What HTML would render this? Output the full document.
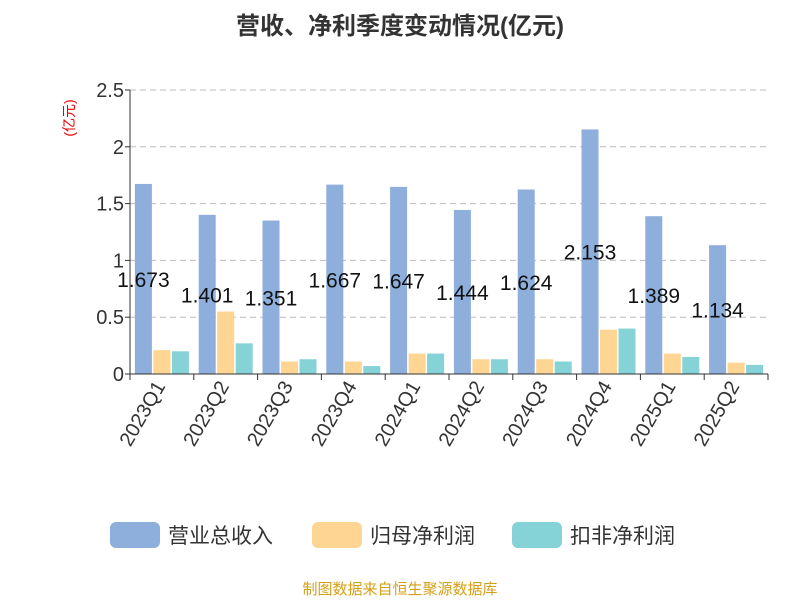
<!DOCTYPE html>
<html><head><meta charset="utf-8"><style>
body{margin:0;background:#fff;font-family:"Liberation Sans","Noto Sans CJK SC",sans-serif;}
</style></head><body>
<svg width="800" height="600" xmlns="http://www.w3.org/2000/svg" font-family="Liberation Sans, Noto Sans CJK SC, sans-serif">
<text x="400" y="34" text-anchor="middle" font-size="24" font-weight="bold" fill="#333">营收、净利季度变动情况(亿元)</text>
<text transform="translate(74,118) rotate(-90)" text-anchor="middle" font-size="14" fill="#e00">(亿元)</text>
<g id="grid"></g><g id="bars"></g><g id="axes"></g>
<g>
<rect x="110" y="522" width="50" height="26" rx="6" fill="#8eaedb"/>
<text x="168" y="543" font-size="21" fill="#333">营业总收入</text>
<rect x="312" y="522" width="50" height="26" rx="6" fill="#ffd594"/>
<text x="370" y="543" font-size="21" fill="#333">归母净利润</text>
<rect x="512" y="522" width="50" height="26" rx="6" fill="#85d3d6"/>
<text x="570" y="543" font-size="21" fill="#333">扣非净利润</text>
</g>
<text x="400" y="594" text-anchor="middle" font-size="15" fill="#d4a017">制图数据来自恒生聚源数据库</text>
</svg>
<script>
const categories=["2023Q1","2023Q2","2023Q3","2023Q4","2024Q1","2024Q2","2024Q3","2024Q4","2025Q1","2025Q2"];
const revenue=[1.673,1.401,1.351,1.667,1.647,1.444,1.624,2.153,1.389,1.134];
const parentProfit=[0.21,0.55,0.11,0.11,0.18,0.13,0.13,0.39,0.18,0.10];
const deductedProfit=[0.20,0.27,0.13,0.07,0.18,0.13,0.11,0.40,0.15,0.08];
const yTicks=[0,0.5,1,1.5,2,2.5];
const yTickLabels=["0","0.5","1","1.5","2","2.5"];
const NS="http://www.w3.org/2000/svg";
const x0=130,x1=768,y0=374,yTop=90,yMax=2.5;
const cw=(x1-x0)/categories.length;
const Y=v=>y0-v/yMax*(y0-yTop);
function mk(t,a,p,txt){const e=document.createElementNS(NS,t);for(const k in a)e.setAttribute(k,a[k]);if(txt!==undefined)e.textContent=txt;p.appendChild(e);return e;}
const grid=document.getElementById('grid'),bars=document.getElementById('bars'),axes=document.getElementById('axes');
yTicks.forEach((v,i)=>{
 if(v>0){const l=mk('line',{x1:x0,x2:x1,y1:Y(v),y2:Y(v),stroke:'#bbb','stroke-dasharray':'6,4'},grid);
 }
 const t=mk('text',{x:x0-6,y:Y(v)+7,'text-anchor':'end','font-size':'20',fill:'#333'},axes,yTickLabels[i]);
 
 mk('line',{x1:x0-5,x2:x0,y1:Y(v),y2:Y(v),stroke:'#333'},axes);
});
mk('line',{x1:x0,x2:x0,y1:yTop,y2:y0,stroke:'#333'},axes);
mk('line',{x1:x0,x2:x1,y1:y0,y2:y0,stroke:'#333'},axes);
const series=[[revenue,'#8eaedb','revenue'],[parentProfit,'#ffd594','parent-profit'],[deductedProfit,'#85d3d6','deducted-profit']];
const bw=17,gap=1.5;
categories.forEach((c,i)=>{
 const cx=x0+cw*(i+0.5);
 const start=cx-(3*bw+2*gap)/2;
 series.forEach((s,j)=>{
  const v=s[0][i],bx=start+j*(bw+gap);
  const r=mk('rect',{x:bx,y:Y(v),width:bw,height:y0-Y(v),fill:s[1]},bars);
  
 });
 const lx=start+bw/2;
 const t=mk('text',{x:lx,y:(Y(revenue[i])+y0)/2+8,'text-anchor':'middle','font-size':'21',fill:'#111'},bars,String(revenue[i]));
 
 mk('line',{x1:x0+cw*i,x2:x0+cw*i,y1:y0,y2:y0+6,stroke:'#333'},axes);
 const xl=mk('text',{transform:`translate(${cx+4},${y0+12}) rotate(-60)`,'text-anchor':'end','font-size':'20',fill:'#333'},axes,c);
 
});
mk('line',{x1:x1,x2:x1,y1:y0,y2:y0+6,stroke:'#333'},axes);
</script>
</body></html>
